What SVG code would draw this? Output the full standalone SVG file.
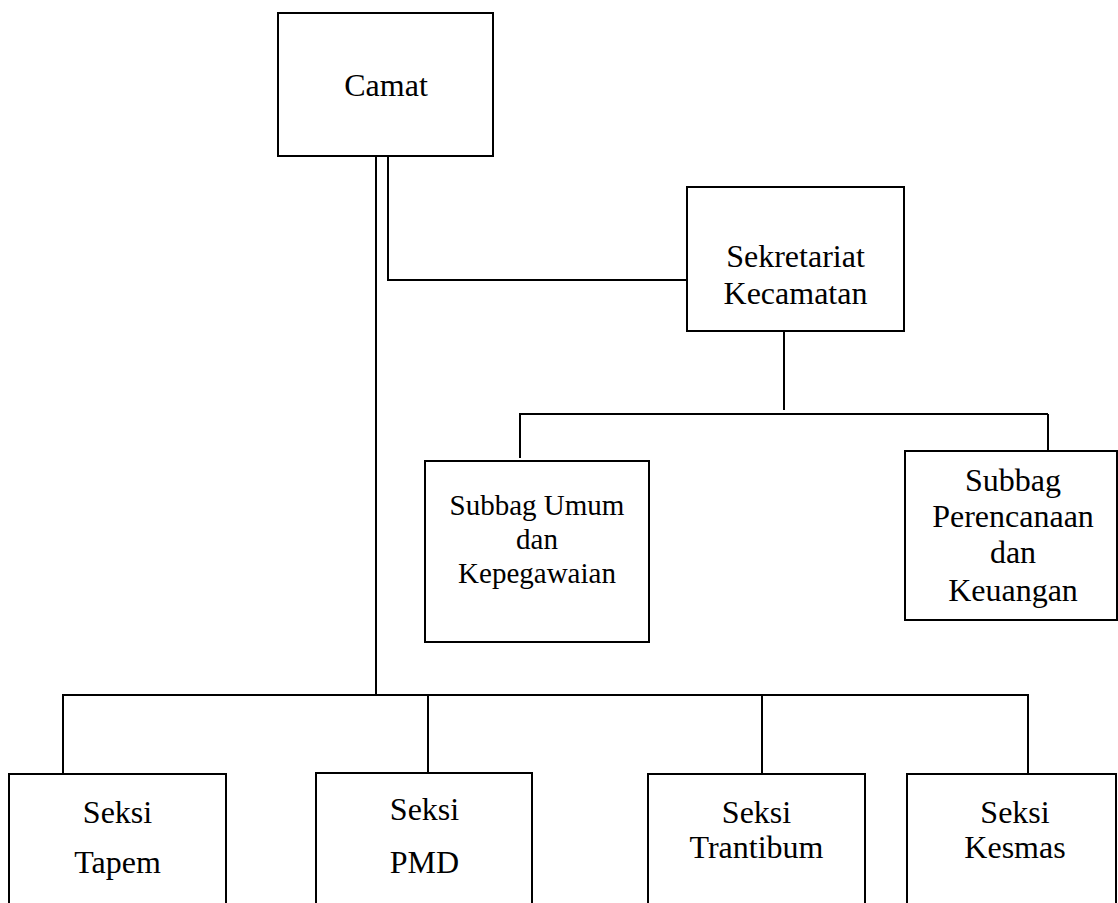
<svg xmlns="http://www.w3.org/2000/svg" width="1118" height="903" viewBox="0 0 1118 903">
<style>
.box{fill:#fff;stroke:#000;stroke-width:2}
.ln{fill:none;stroke:#000;stroke-width:2}
.t{font-size:32px;fill:#000;text-anchor:middle}
.sm{font-size:29px}
</style>
<rect width="1118" height="903" fill="#fff"/>
<g id="connectors">
<polyline class="ln" points="388,156 388,280 687,280"/>
<line class="ln" x1="376" y1="156" x2="376" y2="695"/>
<line class="ln" x1="784" y1="331" x2="784" y2="410"/>
<line class="ln" x1="519" y1="414" x2="1048" y2="414"/>
<line class="ln" x1="520" y1="414" x2="520" y2="458"/>
<line class="ln" x1="1048" y1="414" x2="1048" y2="461"/>
<line class="ln" x1="62" y1="695" x2="1029" y2="695"/>
<line class="ln" x1="63" y1="695" x2="63" y2="774"/>
<line class="ln" x1="428" y1="695" x2="428" y2="773"/>
<line class="ln" x1="762" y1="695" x2="762" y2="774"/>
<line class="ln" x1="1028" y1="695" x2="1028" y2="774"/>
</g>
<g font-family="'Liberation Serif', 'Times New Roman', Tinos, 'DejaVu Serif', serif">
<g id="camat">
<rect class="box" x="278" y="13" width="215" height="143"/>
<text class="t" x="386" y="96">Camat</text>
</g>
<g id="sekretariat">
<rect class="box" x="687" y="187" width="217" height="144"/>
<text class="t" x="795.5" y="267">Sekretariat</text>
<text class="t" x="795.5" y="304">Kecamatan</text>
</g>
<g id="subbag-umum">
<rect class="box" x="425" y="461" width="224" height="181"/>
<text class="t sm" x="537" y="515">Subbag Umum</text>
<text class="t sm" x="537" y="549">dan</text>
<text class="t sm" x="537" y="583">Kepegawaian</text>
</g>
<g id="subbag-perencanaan">
<rect class="box" x="905" y="451" width="212" height="169"/>
<text class="t" x="1013" y="491">Subbag</text>
<text class="t" x="1013" y="527">Perencanaan</text>
<text class="t" x="1013" y="563">dan</text>
<text class="t" x="1013" y="601">Keuangan</text>
</g>
<g id="seksi-tapem">
<rect class="box" x="9" y="774" width="217" height="160"/>
<text class="t" x="117.5" y="823">Seksi</text>
<text class="t" x="117.5" y="873">Tapem</text>
</g>
<g id="seksi-pmd">
<rect class="box" x="316" y="773" width="216" height="160"/>
<text class="t" x="424.5" y="820">Seksi</text>
<text class="t" x="424.5" y="873">PMD</text>
</g>
<g id="seksi-trantibum">
<rect class="box" x="648" y="774" width="217" height="160"/>
<text class="t" x="756.5" y="823">Seksi</text>
<text class="t" x="756.5" y="858">Trantibum</text>
</g>
<g id="seksi-kesmas">
<rect class="box" x="907" y="774" width="209" height="160"/>
<text class="t" x="1015" y="823">Seksi</text>
<text class="t" x="1015" y="858">Kesmas</text>
</g>
</g>
</svg>
